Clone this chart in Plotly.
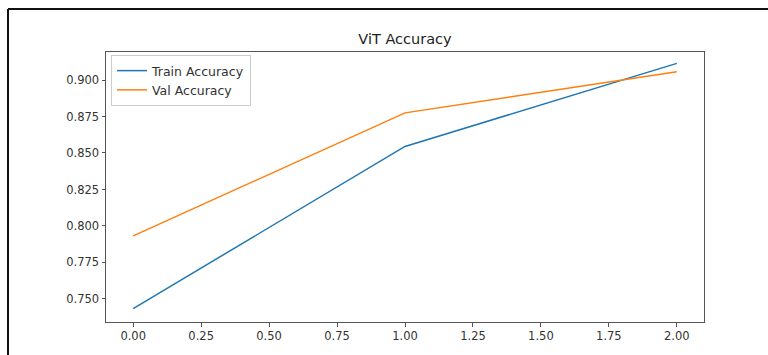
import plotly.graph_objects as go

epochs = [0, 1, 2]
train_acc = [0.7434, 0.8545, 0.9114]
val_acc = [0.7932, 0.8775, 0.9057]
x_ticks = [0.0, 0.25, 0.5, 0.75, 1.0, 1.25, 1.5, 1.75, 2.0]
y_ticks = [0.750, 0.775, 0.800, 0.825, 0.850, 0.875, 0.900]

W, H = 768, 355
L, R, T, B = 106, 64, 52, 33
pw, ph = W - L - R, H - T - B

fig = go.Figure()
fig.add_trace(go.Scatter(x=epochs, y=train_acc, mode="lines", name="Train Accuracy",
                         line=dict(color="#1f77b4", width=1.5)))
fig.add_trace(go.Scatter(x=epochs, y=val_acc, mode="lines", name="Val Accuracy",
                         line=dict(color="#ff7f0e", width=1.5)))

axis_common = dict(showgrid=False, zeroline=False, showline=True, linecolor="#555",
                   linewidth=1, mirror=True, ticks="outside", ticklen=3.5,
                   tickcolor="#555", tickwidth=1,
                   tickfont=dict(family="DejaVu Sans", size=11.5, color="#333"))

fig.update_xaxes(range=[-0.1, 2.1], tickvals=x_ticks,
                 ticktext=[f"{v:.2f}" for v in x_ticks], **axis_common)
fig.update_yaxes(range=[0.7342, 0.9192], tickvals=y_ticks,
                 ticktext=[f"{v:.3f}" for v in y_ticks], **axis_common)

# outer frame lines (top and left) from the screenshot crop
fx = (8 - L) / pw
fy = 1 + (T - 9) / ph
fig.add_shape(type="line", xref="paper", yref="paper", x0=fx, x1=(W - L) / pw + 0.01,
              y0=fy, y1=fy, line=dict(color="#111", width=2))
fig.add_shape(type="line", xref="paper", yref="paper", x0=fx, x1=fx,
              y0=fy, y1=-(B + 5) / ph, line=dict(color="#111", width=2))

fig.update_layout(
    width=W, height=H,
    margin=dict(l=L, r=R, t=T, b=B),
    paper_bgcolor="white", plot_bgcolor="white",
    title=dict(text="ViT Accuracy", x=(L + pw / 2) / W, xanchor="center",
               y=1 - 39 / H, yanchor="middle",
               font=dict(family="DejaVu Sans", size=14.5, color="#222")),
    legend=dict(x=(111 - L) / pw, y=1 - (55 - T) / ph, xanchor="left", yanchor="top",
                bgcolor="rgba(255,255,255,0.8)", bordercolor="#ccc", borderwidth=1,
                font=dict(family="DejaVu Sans", size=12.5, color="#333"),
                tracegroupgap=0, itemwidth=30),
    showlegend=True,
)

fig.write_html("out.html")
